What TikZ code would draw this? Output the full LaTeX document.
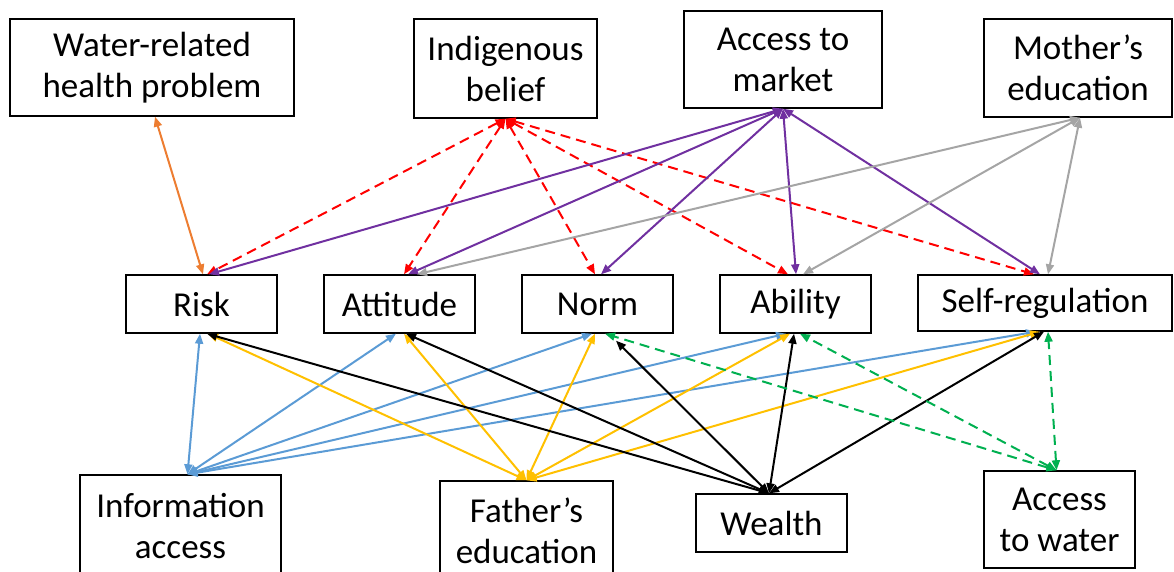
\documentclass[tikz,border=0pt]{standalone}
\usepackage{fontspec}
\setmainfont{Carlito}
\usetikzlibrary{arrows.meta}
\definecolor{corange}{HTML}{ED7D31}
\definecolor{cred}{HTML}{FF0000}
\definecolor{cpurple}{HTML}{7030A0}
\definecolor{cgray}{HTML}{A5A5A5}
\definecolor{cblue}{HTML}{5B9BD5}
\definecolor{cyellow}{HTML}{FFC000}
\definecolor{cgreen}{HTML}{00B050}
\begin{document}
\begin{tikzpicture}[x=1pt,y=-1pt,
  box/.style={draw, line width=1.4pt, align=center, inner sep=0pt, fill=white,
    font=\fontsize{35}{41}\selectfont},
  conn/.style={line width=2pt, {Triangle[length=10pt,width=8pt]}-{Triangle[length=10pt,width=8pt]}},
  dsh/.style={conn, dash pattern=on 10pt off 6pt}]
\useasboundingbox (0,0) rectangle (1174,571);
\clip (0,0) rectangle (1174,571);
% top row
\node[box, minimum width=284pt, minimum height=97pt] (water) at (152,67.5) {Water-related\\health problem};
\node[box, minimum width=183pt, minimum height=99pt] (indig) at (505.5,68.5) {Indigenous\\belief};
\node[box, minimum width=198pt, minimum height=97pt] (market) at (783,59.5) {Access to\\market};
\node[box, minimum width=188pt, minimum height=98pt] (mother) at (1078,68) {Mother’s\\education};
% middle row
\node[box, minimum width=151pt, minimum height=58pt] (risk) at (201.5,304) {Risk};
\node[box, minimum width=151pt, minimum height=58pt] (attitude) at (399.5,304) {Attitude};
\node[box, minimum width=151pt, minimum height=58pt] (norm) at (597.5,304) {Norm};
\node[box, minimum width=151pt, minimum height=58pt] (ability) at (795.5,304) {Ability};
\node[box, minimum width=254pt, minimum height=56pt] (selfreg) at (1045,303) {Self-regulation};
% bottom row
\node[box, minimum width=201pt, minimum height=102pt] (info) at (180.5,526) {Information\\access};
\node[box, minimum width=173pt, minimum height=100pt] (father) at (526.5,531) {Father’s\\education};
\node[box, minimum width=151pt, minimum height=58pt] (wealth) at (771.5,523) {Wealth};
\node[box, minimum width=151pt, minimum height=97pt] (accwater) at (1059.5,519.5) {Access\\to water};
% orange
\draw[conn, corange] ([xshift=3pt]water.south) -- ([xshift=1.5pt]risk.north);
% red dashed
\draw[dsh, cred] (indig.south) -- ([xshift=5.5pt]risk.north);
\draw[dsh, cred] (indig.south) -- ([xshift=4.5pt]attitude.north);
\draw[dsh, cred] (indig.south) -- ([xshift=-2.5pt]norm.north);
\draw[dsh, cred] (indig.south) -- ([xshift=-7.5pt]ability.north);
\draw[dsh, cred] (indig.south) -- ([xshift=-11pt]selfreg.north);
% purple
\draw[conn, cpurple] (market.south) -- ([xshift=7.5pt]risk.north);
\draw[conn, cpurple] (market.south) -- ([xshift=8.5pt]attitude.north);
\draw[conn, cpurple] (market.south) -- ([xshift=3.5pt]norm.north);
\draw[conn, cpurple] (market.south) -- ([xshift=0.5pt]ability.north);
\draw[conn, cpurple] (market.south) -- ([xshift=-5pt]selfreg.north);
% gray
\draw[conn, cgray] ([xshift=2pt]mother.south) -- ([xshift=17.5pt]attitude.north);
\draw[conn, cgray] ([xshift=2pt]mother.south) -- ([xshift=7.5pt]ability.north);
\draw[conn, cgray] ([xshift=2pt]mother.south) -- ([xshift=3pt]selfreg.north);
% blue
\draw[conn, cblue] ([xshift=7pt]info.north) -- ([xshift=-1.5pt]risk.south);
\draw[conn, cblue] ([xshift=7pt]info.north) -- ([xshift=-3.5pt]attitude.south);
\draw[conn, cblue] ([xshift=7pt]info.north) -- ([xshift=-5.5pt]norm.south);
\draw[conn, cblue] ([xshift=7pt]info.north) -- ([xshift=-9.5pt]ability.south);
\draw[conn, cblue] ([xshift=7pt]info.north) -- ([xshift=-9pt]selfreg.south);
% yellow
\draw[conn, cyellow] (father.north) -- ([xshift=6.5pt]risk.south);
\draw[conn, cyellow] (father.north) -- ([xshift=4.5pt]attitude.south);
\draw[conn, cyellow] (father.north) -- ([xshift=-2.5pt]norm.south);
\draw[conn, cyellow] (father.north) -- ([xshift=-5.5pt]ability.south);
\draw[conn, cyellow] (father.north) -- ([xshift=-5pt]selfreg.south);
% black
\draw[conn, black] ([xshift=-2.5pt]wealth.north) -- ([xshift=5.5pt]risk.south);
\draw[conn, black] ([xshift=-2.5pt]wealth.north) -- ([xshift=6.5pt]attitude.south);
\draw[conn, black] ([xshift=-2.5pt]wealth.north) -- ([xshift=18.5pt,yshift=-7pt]norm.south);
\draw[conn, black] ([xshift=-2.5pt]wealth.north) -- ([xshift=-1.5pt]ability.south);
\draw[conn, black] ([xshift=-2.5pt]wealth.north) -- ([xshift=-1pt]selfreg.south);
% green dashed
\draw[dsh, cgreen] ([xshift=-3pt]accwater.north) -- ([xshift=7.5pt]norm.south);
\draw[dsh, cgreen] ([xshift=-3pt]accwater.north) -- ([xshift=4.5pt]ability.south);
\draw[dsh, cgreen] ([xshift=-3pt]accwater.north) -- ([xshift=3pt]selfreg.south);
\end{tikzpicture}
\end{document}
